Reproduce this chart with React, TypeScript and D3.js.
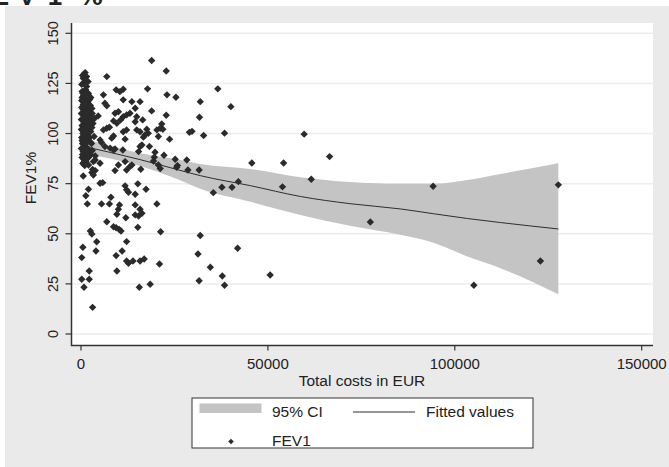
import React, { useEffect, useRef } from "react";
import * as d3 from "d3";

// axis ticks
const yTicks = [0, 25, 50, 75, 100, 125, 150];
const xTicks = [0, 50000, 100000, 150000];

// fitted curve and 95% CI (cost, lower, fit, upper)
const fitCost = [1600, 7800, 15800, 25200, 31900, 45300, 58700, 72000, 85400, 94300, 103400, 112200, 127700];
const fitValue = [93.2, 90.6, 87.0, 82.3, 79.0, 74.0, 68.6, 65.0, 62.4, 60.0, 57.6, 55.6, 52.4];
const ciLower = [89.5, 87.5, 83.8, 77.7, 72.5, 66.0, 59.4, 54.0, 49.5, 45.5, 38.6, 32.8, 19.8];
const ciUpper = [97.0, 93.8, 90.2, 87.3, 84.8, 82.3, 78.2, 75.8, 74.9, 74.9, 76.8, 79.8, 85.2];

// FEV1 observations: [total costs in EUR, FEV1 %]
const fev1Points: [number, number][] = [
  [18900, 136.4], [22800, 131.2], [6900, 128.4], [1100, 130.4], [1500, 128.4], [600, 127.6], [800, 125.4],
  [1900, 125.9], [17800, 122.3], [36600, 122.3], [23000, 119.3], [25400, 118.1], [31900, 115.9], [9400, 121.8],
  [10400, 120.9], [11300, 122.1], [1500, 123.4], [1100, 120.4], [500, 120.1], [6000, 119.3], [6400, 115.1],
  [6900, 113.8], [13600, 115.9], [11300, 116.8], [15800, 115.9], [40100, 113.4], [31700, 108.1], [18900, 111.3],
  [22800, 109.1], [14500, 112.6], [4600, 108.8], [9100, 110.1], [10000, 110.9], [10600, 106.8], [11300, 108.4],
  [12200, 109.3], [13100, 110.1], [14900, 108.4], [14500, 105.9], [16500, 106.8], [21600, 104.8], [21200, 102.6],
  [20300, 101.8], [21900, 102.1], [20700, 98.5], [23700, 97.2], [29000, 100.6], [29700, 101.1], [32800, 99.0],
  [38400, 100.2], [59700, 99.7], [8700, 106.3], [9600, 105.1], [6000, 101.8], [6900, 102.6], [7600, 103.1],
  [8700, 98.8], [8200, 97.7], [11300, 100.9], [12200, 101.8], [14900, 101.8], [15800, 100.9], [17600, 102.1],
  [18000, 100.1], [17100, 99.3], [16700, 98.2], [5100, 96.8], [11800, 97.2], [6400, 93.5], [7800, 92.7],
  [8700, 91.8], [5500, 95.5], [3800, 88.8], [16300, 94.3], [15800, 93.5], [18300, 93.5], [11200, 91.8],
  [15400, 91.0], [19800, 90.7], [19600, 88.2], [19400, 86.3], [20700, 84.3], [21200, 82.5], [22200, 89.2],
  [25200, 87.2], [28300, 86.8], [25800, 84.0], [25600, 83.2], [28600, 81.8], [31600, 81.8], [45700, 85.3],
  [54200, 85.3], [66500, 88.5], [61600, 77.2], [42100, 76.0], [37700, 73.2], [40400, 73.2], [35400, 70.5],
  [53900, 73.4], [94200, 73.7], [127700, 74.4], [77400, 55.9], [122900, 36.4], [105100, 24.3], [50600, 29.4],
  [38400, 24.3], [37800, 28.9], [41900, 42.8], [31900, 49.1], [31300, 39.9], [34600, 33.3], [31600, 26.6],
  [18500, 24.8], [15600, 23.3], [21000, 34.9], [21300, 51.0], [20300, 64.9],
  [5100, 75.2], [5800, 75.5], [2000, 72.2], [1300, 69.0], [1700, 64.9], [11800, 73.9], [12200, 71.9],
  [12700, 70.7], [15200, 74.9], [17400, 72.2], [14500, 69.7], [8000, 68.2], [5500, 64.9], [7600, 64.9],
  [10300, 64.4], [10000, 62.2], [9600, 59.7], [14500, 64.4], [15800, 62.2], [16300, 60.2], [15400, 58.9],
  [14500, 59.4], [12000, 58.0], [6900, 56.0], [8700, 53.5], [9400, 53.0], [10200, 52.2], [10700, 51.4],
  [15200, 53.2], [2500, 51.4], [2900, 49.9], [500, 43.3], [4000, 41.4], [11000, 41.4], [9400, 39.1],
  [200, 38.1], [12200, 36.4], [12700, 35.3], [13900, 36.4], [15800, 36.4], [16900, 37.4], [2200, 31.4],
  [9600, 31.4], [200, 27.3], [800, 23.3], [3100, 13.3], [12200, 46.1], [4200, 46.0], [2200, 27.3],
  [600, 78.8], [2900, 80.5], [3300, 79.3], [3800, 86.8], [3300, 86.0], [3100, 82.1], [3800, 81.5],
  [5100, 85.2], [10000, 84.3], [11800, 86.0], [13100, 83.5], [13600, 84.3], [12200, 81.8], [16000, 82.2],
  [9100, 81.5], [9100, 92.3], [600, 91.0], [1100, 87.7], [1300, 85.2], [2000, 84.3],
  // dense cluster of low-cost patients
  [300, 118], [500, 116], [800, 117], [1200, 115], [1800, 116], [2500, 114], [200, 113], [600, 112],
  [1000, 111], [1500, 113], [2200, 112], [3000, 110], [400, 110], [900, 109], [1400, 108], [2000, 109],
  [2700, 107], [100, 107], [700, 106], [1100, 105], [1700, 106], [2400, 104], [3200, 105], [300, 104],
  [800, 103], [1300, 102], [1900, 103], [2600, 101], [500, 100], [1000, 99], [1600, 100], [2300, 98],
  [200, 98], [700, 97], [1200, 96], [1800, 97], [2800, 95], [400, 95], [900, 94], [1500, 93],
  [2100, 92], [600, 91], [1100, 90], [1700, 89], [300, 88], [800, 87], [1300, 86], [2000, 88],
  [500, 85], [1000, 84], [400, 129], [1600, 126], [1200, 122], [2000, 120], [300, 121], [1000, 119],
  [2600, 118], [1400, 117.5], [600, 114.5], [2900, 112.5], [1800, 111], [100, 110], [2400, 108.5],
  [200, 116.5], [700, 119], [1400, 120.5], [2300, 117], [100, 102], [600, 101.5], [1200, 99.5],
  [2000, 100.5], [2900, 103], [300, 96.5], [1600, 95.5], [2400, 96], [100, 92.5], [900, 92],
  [1900, 90.5], [2600, 89.5], [400, 89.5], [1500, 87.5], [700, 85.5], [3000, 91.5], [3500, 98.5],
  [3600, 107.5], [200, 124.5], [900, 114], [2000, 114.5],
];

const FONT = "'Liberation Sans', Arial, Helvetica, sans-serif";

const App = () => {
  const ref = useRef<SVGSVGElement | null>(null);

  useEffect(() => {
    const svg = d3.select(ref.current);
    svg.selectAll("*").remove();

    const plot = { left: 71, right: 653, top: 23, bottom: 345 };
    const x = d3.scaleLinear().domain([0, 150000]).range([81, 641.7]);
    const y = d3.scaleLinear().domain([0, 150]).range([334, 33.3]);

    // outer graph region
    svg.append("rect").attr("x", 5).attr("y", 6).attr("width", 664).attr("height", 461).attr("fill", "#eaeaea");

    // cut-off heading at the very top
    const head = svg.append("g").attr("font-family", FONT).attr("font-weight", "bold")
      .attr("font-size", 26).attr("fill", "#222");
    head.append("text").attr("x", 9).attr("y", 5).attr("text-anchor", "end").text("FE");
    head.append("text").attr("x", 27).attr("y", 5).attr("text-anchor", "middle").text("V");
    head.append("text").attr("x", 55).attr("y", 5).attr("text-anchor", "middle").text("1");
    head.append("text").attr("x", 91).attr("y", 5).attr("text-anchor", "middle").text("%");

    // plot region
    svg.append("rect").attr("x", plot.left).attr("y", plot.top)
      .attr("width", plot.right - plot.left).attr("height", plot.bottom - plot.top).attr("fill", "#fff");

    // gridlines
    svg.append("g").selectAll("line").data(yTicks).enter().append("line")
      .attr("x1", plot.left).attr("x2", plot.right)
      .attr("y1", (d) => y(d)).attr("y2", (d) => y(d))
      .attr("stroke", "#ececec").attr("stroke-width", 1.5);

    // CI band
    const idx = d3.range(fitCost.length);
    const area = d3.area<number>()
      .x((i) => x(fitCost[i]))
      .y0((i) => y(ciLower[i]))
      .y1((i) => y(ciUpper[i]))
      .curve(d3.curveMonotoneX);
    svg.append("path").attr("d", area(idx)).attr("fill", "#c4c4c4");

    // fitted values
    const line = d3.line<number>().x((i) => x(fitCost[i])).y((i) => y(fitValue[i])).curve(d3.curveMonotoneX);
    svg.append("path").attr("d", line(idx)).attr("fill", "none").attr("stroke", "#2e2e2e").attr("stroke-width", 1);

    // points
    const diamond = "M0,-3.7L3.7,0L0,3.7L-3.7,0Z";
    svg.append("g").selectAll("path").data(fev1Points).enter().append("path")
      .attr("d", diamond)
      .attr("transform", (d) => `translate(${x(d[0])},${y(d[1])})`)
      .attr("fill", "#2b2b2b");

    // axes
    const axisColor = "#333";
    svg.append("line").attr("x1", plot.left + 0.5).attr("x2", plot.left + 0.5)
      .attr("y1", plot.top).attr("y2", plot.bottom + 1).attr("stroke", axisColor).attr("stroke-width", 1.5);
    svg.append("line").attr("x1", plot.left).attr("x2", plot.right)
      .attr("y1", plot.bottom + 0.5).attr("y2", plot.bottom + 0.5).attr("stroke", axisColor).attr("stroke-width", 1.5);

    const yg = svg.append("g");
    yTicks.forEach((t) => {
      yg.append("line").attr("x1", 65.5).attr("x2", plot.left).attr("y1", y(t)).attr("y2", y(t))
        .attr("stroke", axisColor).attr("stroke-width", 1.2);
      yg.append("text")
        .attr("transform", `translate(57.5,${y(t)}) rotate(-90)`)
        .attr("text-anchor", "middle")
        .attr("font-family", FONT).attr("font-size", 14.5).attr("fill", "#222")
        .text(String(t));
    });

    const xg = svg.append("g");
    xTicks.forEach((t) => {
      xg.append("line").attr("x1", x(t)).attr("x2", x(t)).attr("y1", plot.bottom).attr("y2", plot.bottom + 5.5)
        .attr("stroke", axisColor).attr("stroke-width", 1.2);
      xg.append("text").attr("x", x(t)).attr("y", 369)
        .attr("text-anchor", "middle")
        .attr("font-family", FONT).attr("font-size", 15).attr("fill", "#222")
        .text(String(t));
    });

    // axis titles
    svg.append("text").attr("x", (plot.left + plot.right) / 2).attr("y", 385.5)
      .attr("text-anchor", "middle").attr("font-family", FONT).attr("font-size", 15.5).attr("fill", "#222")
      .text("Total costs in EUR");
    svg.append("text").attr("transform", "translate(36,178) rotate(-90)")
      .attr("text-anchor", "middle").attr("font-family", FONT).attr("font-size", 15.5).attr("fill", "#222")
      .text("FEV1%");

    // legend
    const lg = svg.append("g").attr("font-family", FONT).attr("font-size", 15.5).attr("fill", "#222");
    lg.append("rect").attr("x", 192).attr("y", 398).attr("width", 341).attr("height", 50)
      .attr("fill", "#fff").attr("stroke", "#333").attr("stroke-width", 1);
    lg.append("rect").attr("x", 199.5).attr("y", 403.5).attr("width", 62).attr("height", 9.5).attr("fill", "#c4c4c4");
    lg.append("text").attr("x", 272).attr("y", 417).text("95% CI");
    lg.append("line").attr("x1", 353).attr("x2", 415).attr("y1", 412).attr("y2", 412)
      .attr("stroke", "#2e2e2e").attr("stroke-width", 1);
    lg.append("text").attr("x", 426).attr("y", 417).text("Fitted values");
    lg.append("path").attr("d", "M0,-2.8L2.8,0L0,2.8L-2.8,0Z").attr("transform", "translate(231,441.5)").attr("fill", "#2b2b2b");
    lg.append("text").attr("x", 272).attr("y", 445.5).text("FEV1");
  }, []);

  return (
    <svg
      ref={ref}
      width={669}
      height={467}
      style={{ position: "absolute", left: 0, top: 0, display: "block", background: "#fff" }}
    />
  );
};

export default App;
